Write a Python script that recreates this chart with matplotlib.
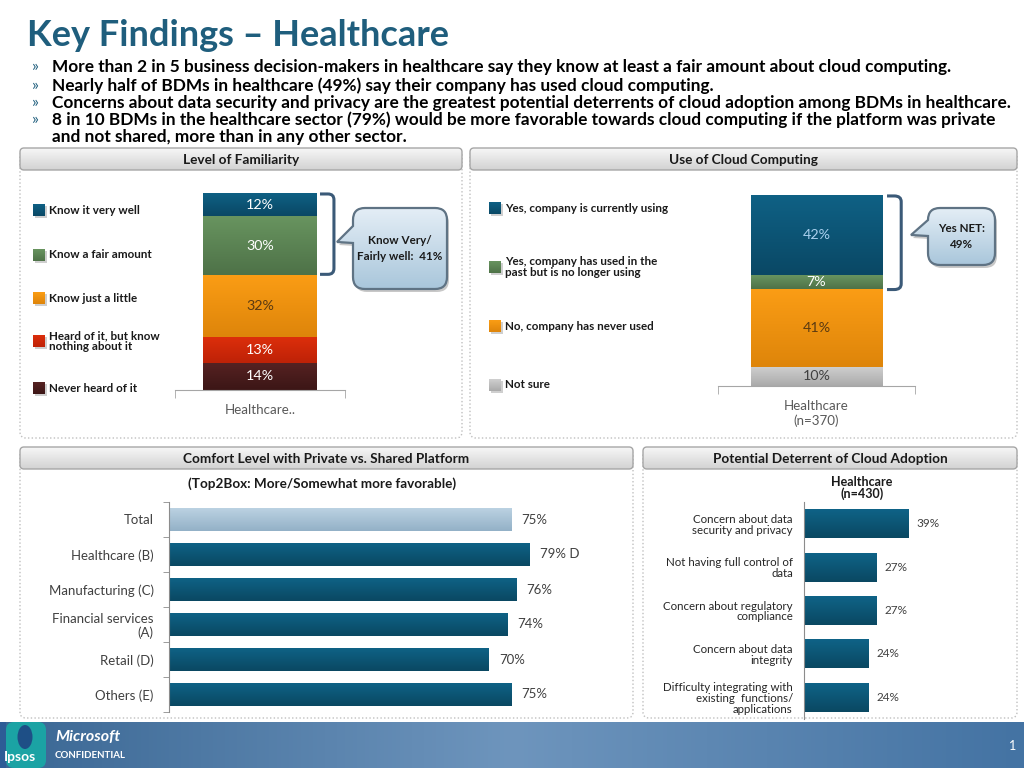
import numpy as np
import matplotlib.pyplot as plt
import matplotlib.colors as mcolors
from matplotlib.patches import FancyBboxPatch, Rectangle, PathPatch, Ellipse
from matplotlib.path import Path
from matplotlib.transforms import blended_transform_factory, Affine2D

plt.rcParams['font.family'] = ['Lato', 'DejaVu Sans']

# ---- data ----
fam_labels = ['Never heard of it', 'Heard of it, but know\nnothing about it',
              'Know just a little', 'Know a fair amount', 'Know it very well']
fam_values = [14, 13, 32, 30, 12]
fam_colors = [('#562222', '#3C1616'), ('#DC2E0B', '#BE2207'), ('#FB9D15', '#DE850A'),
              ('#68945F', '#4E7248'), ('#0F6185', '#0A4865')]
fam_txt = ['white', 'white', '#5A3A12', 'white', 'white']

use_labels = ['Not sure', 'No, company has never used',
              'Yes, company has used in the\npast but is no longer using',
              'Yes, company is currently using']
use_values = [10, 41, 7, 42]
use_colors = [('#D0D0D0', '#AAAAAA'), ('#FB9D15', '#DE850A'),
              ('#68945F', '#4E7248'), ('#0F6185', '#0A4865')]
use_txt = ['#404040', '#5A3A12', 'white', '#A9D0EE']

comfort_labels = ['Total', 'Healthcare (B)', 'Manufacturing (C)',
                  'Financial services\n(A)', 'Retail (D)', 'Others (E)']
comfort_values = [75, 79, 76, 74, 70, 75]
comfort_sig = ['', ' D', '', '', '', '']

deter_labels = ['Concern about data\nsecurity and privacy',
                'Not having full control of\ndata',
                'Concern about regulatory\ncompliance',
                'Concern about data\nintegrity',
                'Difficulty integrating with\nexisting  functions/\napplications']
deter_values = [39, 27, 27, 24, 24]

bullets = [
    ('»', 'More than 2 in 5 business decision-makers in healthcare say they know at least a fair amount about cloud computing.'),
    ('»', 'Nearly half of BDMs in healthcare (49%) say their company has used cloud computing.'),
    ('»', 'Concerns about data security and privacy are the greatest potential deterrents of cloud adoption among BDMs in healthcare.'),
    ('»', '8 in 10 BDMs in the healthcare sector (79%) would be more favorable towards cloud computing if the platform was private'),
    ('', 'and not shared, more than in any other sector.'),
]

TEAL = ('#0F6387', '#0A4862')
TOTAL = ('#BDD3E3', '#93B1C7')
W, H = 1024, 768

fig = plt.figure(figsize=(10.24, 7.68), dpi=100)
bg = fig.add_axes([0, 0, 1, 1], zorder=0)
ov = fig.add_axes([0, 0, 1, 1], zorder=10)
for a in (bg, ov):
    a.set_xlim(0, W)
    a.set_ylim(H, 0)
    a.axis('off')


def px_axes(x0, y0, x1, y1):
    a = fig.add_axes([x0 / W, 1 - y1 / H, (x1 - x0) / W, (y1 - y0) / H], zorder=5)
    a.patch.set_alpha(0)
    return a


def cmap_of(colors):
    return mcolors.LinearSegmentedColormap.from_list('g', list(colors))


def gradient(ax, ext, colors, horizontal=False, clip=None, z=1):
    arr = np.linspace(0, 1, 256)
    arr = arr.reshape(1, -1) if horizontal else arr.reshape(-1, 1)
    x0, y0, x1, y1 = ext
    im = ax.imshow(arr, cmap=cmap_of(colors), extent=(x0, x1, y1, y0), origin='upper',
                   aspect='auto', zorder=z, interpolation='bilinear')
    if clip is not None:
        im.set_clip_path(clip)
    ax.set_xlim(0, W)
    ax.set_ylim(H, 0)


def shade_bar(ax, patch, colors, inverted=False):
    # vertical gradient inside a bar patch, lighter on top
    x, y = patch.get_xy()
    w, h = patch.get_width(), patch.get_height()
    ext = (x, x + w, y + h, y) if inverted else (x, x + w, y, y + h)
    im = ax.imshow(np.linspace(0, 1, 64).reshape(-1, 1), cmap=cmap_of(colors),
                   extent=ext, origin='upper', aspect='auto',
                   zorder=patch.get_zorder() + 0.1, interpolation='bilinear')
    im.set_clip_path(patch)


def panel(x0, y0, x1, y1, title, hh=22):
    body = FancyBboxPatch((x0, y0 + 2), x1 - x0, y1 - y0 - 2,
                          boxstyle='round,pad=0,rounding_size=6',
                          fc='white', ec='#BFBFBF', lw=1, ls=':', zorder=1)
    bg.add_patch(body)
    head = FancyBboxPatch((x0, y0), x1 - x0, hh,
                          boxstyle='round,pad=0,rounding_size=4',
                          fc='none', ec='#A6A6A6', lw=1, zorder=3)
    bg.add_patch(head)
    gradient(bg, (x0, y0, x1, y0 + hh), ['#F7F7F7', '#D2D2D2'], clip=head, z=2)
    bg.text((x0 + x1) / 2, y0 + hh / 2 + 1, title, ha='center', va='center',
            fontsize=9.8, fontweight='bold', color='#1A1A1A', zorder=4)


def callout(x0, y0, x1, y1, tip, n0, n1, text, r=12):
    verts = [(x0 + r, y0), (x1 - r, y0), (x1, y0), (x1, y0 + r),
             (x1, y1 - r), (x1, y1), (x1 - r, y1), (x0 + r, y1),
             (x0, y1), (x0, y1 - r), (x0, n1), tip, (x0, n0),
             (x0, y0 + r), (x0, y0), (x0 + r, y0), (x0 + r, y0)]
    codes = [Path.MOVETO, Path.LINETO, Path.CURVE3, Path.CURVE3,
             Path.LINETO, Path.CURVE3, Path.CURVE3, Path.LINETO,
             Path.CURVE3, Path.CURVE3, Path.LINETO, Path.LINETO, Path.LINETO,
             Path.LINETO, Path.CURVE3, Path.CURVE3, Path.CLOSEPOLY]
    p = Path(verts, codes)
    ov.add_patch(PathPatch(p.transformed(Affine2D().translate(2, 3)),
                           fc='#C8C8C8', ec='none', zorder=1))
    patch = PathPatch(p, fc='none', ec='#5F7384', lw=1.6, zorder=3)
    ov.add_patch(patch)
    gradient(ov, (tip[0], y0, x1, y1), ['#E4EEF6', '#A9C6DB'], clip=patch, z=2)
    ov.text((x0 + x1) / 2, (y0 + y1) / 2, text, ha='center', va='center',
            fontsize=8.4, fontweight='bold', color='#1A1A1A', zorder=4,
            linespacing=1.45)


def bracket(ax, xa, xb, ya, yb, rx=0.035, ry=3.0):
    tr = blended_transform_factory(ax.transAxes, ax.transData)
    verts = [(xa, yb), (xb - rx, yb), (xb, yb), (xb, yb - ry),
             (xb, ya + ry), (xb, ya), (xb - rx, ya), (xa, ya)]
    codes = [Path.MOVETO, Path.LINETO, Path.CURVE3, Path.CURVE3,
             Path.LINETO, Path.CURVE3, Path.CURVE3, Path.LINETO]
    ax.add_patch(PathPatch(Path(verts, codes), fc='none', ec='#3B5A78', lw=2.2,
                           transform=tr, clip_on=False, capstyle='butt'))


def legend_item(x, y, colors, text):
    ov.add_patch(Rectangle((x + 1.5, y - 4.5), 12, 12, fc='#CFCFCF', ec='none', zorder=2))
    sq = Rectangle((x, y - 6), 12, 12, fc=colors[0], ec='none', zorder=3)
    ov.add_patch(sq)
    gradient(ov, (x, y - 6, x + 12, y + 6), colors, clip=sq, z=3.1)
    ov.text(x + 16, y, text, ha='left', va='center', fontsize=8.4,
            fontweight='bold', color='#1A1A1A', linespacing=1.0)


def style_column(ax, label):
    for s in ('left', 'right', 'top'):
        ax.spines[s].set_visible(False)
    ax.spines['bottom'].set_color('#A6A6A6')
    ax.set_yticks([])
    ax.set_xticks([0])
    ax.set_xticklabels([label])
    ax.tick_params(axis='x', length=0, pad=10, labelsize=9.6, labelcolor='#595959')
    ax.set_xticks([-0.5, 0.5], minor=True)
    ax.tick_params(axis='x', which='minor', length=6, color='#A6A6A6', direction='out')


# ---- title and bullets ----
ov.text(27, 35, 'Key Findings – Healthcare', ha='left', va='center',
        fontsize=26, fontweight='bold', color='#1F5E7D')
for yb, (mark, txt) in zip([67, 86, 103, 120, 137], bullets):
    if mark:
        ov.text(32, yb, mark, ha='left', va='center', fontsize=11.5, color='#1F5E7D')
    ov.text(52, yb, txt, ha='left', va='center', fontsize=12.4,
            fontweight='bold', color='black')

# ---- panels ----
panel(20, 148, 462, 438, 'Level of Familiarity')
panel(470, 148, 1017, 438, 'Use of Cloud Computing')
panel(20, 447, 633, 718, 'Comfort Level with Private vs. Shared Platform')
panel(643, 447, 1017, 718, 'Potential Deterrent of Cloud Adoption')

# ---- footer ----
gradient(bg, (0, 722, W, H), ['#3A6794', '#6E95BD', '#4473A3'], horizontal=True, z=1)
bg.add_patch(Rectangle((0, 722), 6, 46, fc='#2D5C96', ec='none', zorder=2))
bg.add_patch(FancyBboxPatch((6, 722), 40, 46, boxstyle='round,pad=0,rounding_size=8',
                            fc='#1BA3A4', ec='none', zorder=2))
bg.add_patch(Ellipse((25, 737), 15, 24, fc='#1E4F86', ec='none', zorder=3))
bg.text(4, 757, 'Ipsos', ha='left', va='center', fontsize=10, fontweight='bold',
        color='white', zorder=4)
bg.text(55, 737, 'Microsoft', ha='left', va='center', fontsize=11.5,
        fontweight='bold', style='italic', color='white', zorder=4)
bg.text(55, 755, 'CONFIDENTIAL', ha='left', va='center', fontsize=7,
        fontweight='bold', color='white', zorder=4)
bg.text(1013, 746, '1', ha='center', va='center', fontsize=9, color='white', zorder=4)

# ---- chart 1: familiarity ----
ax1 = px_axes(175, 193, 345, 390)
bottom = 0
for v, c, tc in zip(fam_values, fam_colors, fam_txt):
    b = ax1.bar(0, v, bottom=bottom, width=0.665, color=c[0], edgecolor='none')[0]
    shade_bar(ax1, b, c)
    ax1.text(0, bottom + v / 2, f'{v}%', ha='center', va='center', fontsize=10.3,
             color=tc, zorder=4)
    bottom += v
ax1.set_xlim(-0.5, 0.5)
ax1.set_ylim(0, sum(fam_values))
bracket(ax1, 0.853, 0.935, sum(fam_values[:3]) + 0.3, sum(fam_values) - 0.5)
style_column(ax1, 'Healthcare..')

for lbl, c, y in zip(fam_labels, fam_colors, [388, 341, 298, 255, 210]):
    legend_item(33, y, c, lbl)

callout(353, 208, 447, 289, (337, 242), 226, 243, 'Know Very/\nFairly well:  41%')

# ---- chart 2: use of cloud ----
ax2 = px_axes(718, 195, 915, 386)
bottom = 0
for v, c, tc in zip(use_values, use_colors, use_txt):
    b = ax2.bar(0, v, bottom=bottom, width=0.67, color=c[0], edgecolor='none')[0]
    shade_bar(ax2, b, c)
    ax2.text(0, bottom + v / 2, f'{v}%', ha='center', va='center', fontsize=10.3,
             color=tc, zorder=4)
    bottom += v
ax2.set_xlim(-0.5, 0.5)
ax2.set_ylim(0, sum(use_values))
style_column(ax2, 'Healthcare\n(n=370)')
bracket(ax2, 0.858, 0.93, sum(use_values[:2]) - 0.5, sum(use_values) - 0.5)

for lbl, c, y in zip(use_labels, use_colors, [385, 326, 267, 208]):
    legend_item(489, y, c, lbl)

callout(928, 208, 995, 265, (911, 235), 220, 236, 'Yes NET:\n49%')

# ---- chart 3: comfort level ----
ax3 = px_axes(169, 502, 625, 712)
ypos = np.arange(len(comfort_values))
bar_cols = [TOTAL] + [TEAL] * (len(comfort_values) - 1)
bars = ax3.barh(ypos, comfort_values, height=0.68, color=[c[0] for c in bar_cols],
                edgecolor='none')
for b, c in zip(bars, bar_cols):
    shade_bar(ax3, b, c, inverted=True)
for y, v, s in zip(ypos, comfort_values, comfort_sig):
    ax3.text(v + 2.2, y, f'{v}%{s}', ha='left', va='center', fontsize=9.5, color='#404040')
ax3.set_xlim(0, 99.8)
ax3.set_ylim(len(comfort_values) - 0.5, -0.5)
for s in ('right', 'top', 'bottom'):
    ax3.spines[s].set_visible(False)
ax3.spines['left'].set_color('#8C8C8C')
ax3.set_xticks([])
ax3.set_yticks(ypos)
ax3.set_yticklabels(comfort_labels)
ax3.tick_params(axis='y', length=0, pad=11, labelsize=9.5, labelcolor='#404040')
ax3.set_yticks(np.arange(-0.5, len(comfort_values)), minor=True)
ax3.tick_params(axis='y', which='minor', length=4, color='#8C8C8C')
for t in ax3.get_yticklabels():
    t.set_linespacing(1.15)
ov.text(322, 484, '(Top2Box: More/Somewhat more favorable)', ha='center',
        va='center', fontsize=9.7, fontweight='bold', color='#1A1A1A')

# ---- chart 4: deterrents ----
ax4 = px_axes(804, 502, 1010, 719)
ypos4 = np.arange(len(deter_values))
bars4 = ax4.barh(ypos4, deter_values, height=0.665, color=TEAL[0], edgecolor='none')
for b in bars4:
    shade_bar(ax4, b, TEAL, inverted=True)
for y, v in zip(ypos4, deter_values):
    ax4.text(v + 3.2, y, f'{v}%', ha='left', va='center', fontsize=8.5, color='#404040')
ax4.set_xlim(0, 77)
ax4.set_ylim(len(deter_values) - 0.5, -0.5)
for s in ('right', 'top', 'bottom'):
    ax4.spines[s].set_visible(False)
ax4.spines['left'].set_color('#8C8C8C')
ax4.set_xticks([])
ax4.set_yticks(ypos4)
ax4.set_yticklabels(deter_labels)
ax4.tick_params(axis='y', length=0, pad=8, labelsize=8.3, labelcolor='#262626')
for t in ax4.get_yticklabels():
    t.set_linespacing(1.0)
ov.text(862, 488, 'Healthcare\n(n=430)', ha='center', va='center', fontsize=9,
        fontweight='bold', color='#1A1A1A', linespacing=1.0)

fig.savefig('out.png', dpi=100)
